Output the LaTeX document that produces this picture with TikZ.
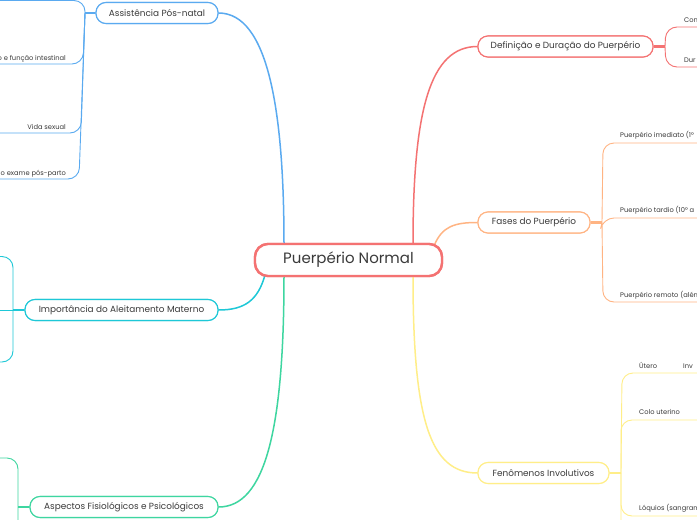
\documentclass[tikz,border=0pt]{standalone}
\usepackage{fontspec}
\setmainfont{Poppins}
\definecolor{cblue}{HTML}{5AAAF0}
\definecolor{cred}{HTML}{F47272}
\definecolor{corange}{HTML}{FFB483}
\definecolor{cyellow}{HTML}{FFEE88}
\definecolor{ccyan}{HTML}{1EC8D7}
\definecolor{cgreen}{HTML}{3ED6A0}
\definecolor{ctext}{HTML}{3A3A3A}
\tikzset{
  mainbox/.style={draw=cred, line width=2.4pt, rounded corners=13pt, fill=white,
    minimum width=187pt, minimum height=32pt, inner sep=0pt, text=ctext,
    font=\fontsize{15}{18}\selectfont},
  branchbox/.style={line width=1.1pt, rounded corners=10pt, fill=white,
    minimum height=21pt, inner sep=0pt, text=ctext,
    font=\fontsize{8.9}{10}\selectfont},
  maincurve/.style={line width=1.5pt},
  stem/.style={line width=2.4pt},
  childline/.style={line width=0.9pt, rounded corners=11pt},
  leaf/.style={text=ctext, inner sep=0pt, font=\fontsize{6.7}{8}\selectfont}
}
\begin{document}
\begin{tikzpicture}[x=1pt,y=-1pt]
\fill[white] (0,0) rectangle (697,520);
\useasboundingbox (0,0) rectangle (697,520);
\clip (0,0) rectangle (697,520);

% nodes (placed first to get anchors)
\node[mainbox] (c) at (348.5,260) {Puerpério Normal};
\node[branchbox, draw=cblue, minimum width=122pt] (asst) at (157,13) {Assistência Pós-natal};
\node[branchbox, draw=cred, minimum width=175pt] (def) at (565.5,46.5) {Definição e Duração do Puerpério};
\node[branchbox, draw=corange, minimum width=112pt] (fas) at (534,222.5) {Fases do Puerpério};
\node[branchbox, draw=cyellow, minimum width=131pt] (fen) at (543.5,473) {Fenômenos Involutivos};
\node[branchbox, draw=ccyan, minimum width=193pt] (imp) at (121.5,310) {Importância do Aleitamento Materno};
\node[branchbox, draw=cgreen, minimum width=188pt] (asp) at (124,507) {Aspectos Fisiológicos e Psicológicos};

% attachment points on the central node
\coordinate (cTL) at (284,244);
\coordinate (cTR) at (413,244);
\coordinate (cRT) at (434,246);
\coordinate (cBR) at (413,276);
\coordinate (cBL) at (284,276);
\coordinate (cLB) at (265,275);

% junction points
\coordinate (jb) at (85,13);
\coordinate (jr) at (665,46.5);
\coordinate (jo) at (602,222.5);
\coordinate (jy) at (621,473);
\coordinate (jc) at (13,310);
\coordinate (jg) at (18,507);

% main curves
\draw[maincurve, cblue] (cTL) .. controls (284,110) and (268,13) .. (asst.east);
\draw[maincurve, cred] (cTR) .. controls (413,110) and (430,46.5) .. (def.west);
\draw[maincurve, corange] (cRT) .. controls (442,226) and (455,222.5) .. (fas.west);
\draw[maincurve, cyellow] (cBR) .. controls (413,420) and (430,473) .. (fen.west);
\draw[maincurve, ccyan] (cLB) .. controls (258,300) and (245,310) .. (imp.east);
\draw[maincurve, cgreen] (cBL) .. controls (284,430) and (265,507) .. (asp.east);

% stems
\draw[stem, cblue] (asst.west) -- (jb);
\draw[stem, cred] (def.east) -- (jr);
\draw[stem, corange] (fas.east) -- (jo);
\draw[stem, cyellow] (fen.east) -- (jy);
\draw[stem, ccyan] (imp.west) -- (jc);
\draw[stem, cgreen] (asp.west) -- (jg);

% blue children
\draw[childline, cblue] (jb) -- (85,0.5) -- (-5,0.5);
\draw[childline, cblue] (jb) -- (83,64) -- (-5,64);
\draw[childline, cblue] (jb) -- (81,133) -- (-5,133);
\draw[childline, cblue] (jb) -- (79,179) -- (-5,179);
\node[leaf, anchor=base east] (b2) at (66,60.5) {o e função intestinal};
\node[leaf, anchor=base east] (b3) at (66,129) {Vida sexual};
\node[leaf, anchor=base east] (b4) at (66,175) {o exame pós-parto};

% red children
\draw[childline, cred] (jr) -- (666,27) -- (705,27);
\draw[childline, cred] (jr) -- (666,67) -- (705,67);
\node[leaf, anchor=base west] (r1) at (684,22) {Con};
\node[leaf, anchor=base west] (r2) at (684,62) {Dur};

% orange children
\draw[childline, corange] (jo) -- (603,143) -- (705,143);
\draw[childline, corange] (jo) -- (603,218) -- (705,218);
\draw[childline, corange] (jo) -- (603,302) -- (705,302);
\node[leaf, anchor=base west] (o1) at (620,137.5) {Puerpério imediato (1°};
\node[leaf, anchor=base west] (o2) at (620,212.5) {Puerpério tardio (10° a};
\node[leaf, anchor=base west] (o3) at (620,297.5) {Puerpério remoto (além};

% yellow children
\draw[childline, cyellow] (jy) -- (622,373) -- (705,373);
\draw[childline, cyellow] (jy) -- (621,420) -- (705,420);
\draw[childline, cyellow] (jy) -- (621,516) -- (705,516);
\draw[childline, cyellow] (jy) -- (621,560) -- (705,560);
\node[leaf, anchor=base west] (y1) at (639,368.5) {Útero};
\node[leaf, anchor=base west] (y1b) at (683,368.5) {Inv};
\node[leaf, anchor=base west] (y2) at (639,414.5) {Colo uterino};
\node[leaf, anchor=base west] (y3) at (639,510.5) {Lóquios (sangram};

% cyan children
\draw[childline, ccyan] (jc) -- (13,256.5) -- (-5,256.5);
\draw[childline, ccyan] (jc) -- (-5,310);
\draw[childline, ccyan] (jc) -- (13,362) -- (-5,362);

% green children
\draw[childline, cgreen] (jg) -- (18,458) -- (-5,458);
\draw[childline, cgreen] (jg) -- (18,560) -- (-5,560);

% redraw nodes on top
\node[mainbox] at (c) {Puerpério Normal};
\node[branchbox, draw=cblue, minimum width=122pt] at (asst) {Assistência Pós-natal};
\node[branchbox, draw=cred, minimum width=175pt] at (def) {Definição e Duração do Puerpério};
\node[branchbox, draw=corange, minimum width=112pt] at (fas) {Fases do Puerpério};
\node[branchbox, draw=cyellow, minimum width=131pt] at (fen) {Fenômenos Involutivos};
\node[branchbox, draw=ccyan, minimum width=193pt] at (imp) {Importância do Aleitamento Materno};
\node[branchbox, draw=cgreen, minimum width=188pt] at (asp) {Aspectos Fisiológicos e Psicológicos};
\end{tikzpicture}
\end{document}
